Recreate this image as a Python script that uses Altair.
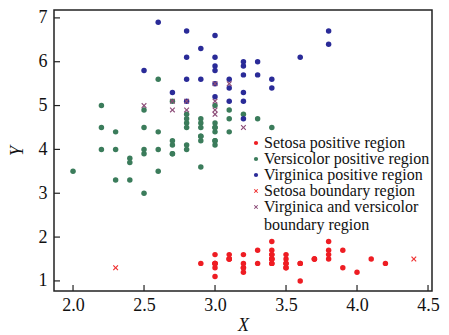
import altair as alt
import pandas as pd

categories = [
    "Setosa positive region",
    "Versicolor positive region",
    "Virginica positive region",
    "Setosa boundary region",
    "Virginica and versicolor boundary region",
]
colors = ["#ee1d23", "#3b7c5b", "#2a2b98", "#ef3030", "#8c4c78"]
XPATH = "M0,-0.3L0.7,-1L1,-0.7L0.3,0L1,0.7L0.7,1L0,0.3L-0.7,1L-1,0.7L-0.3,0L-1,-0.7L-0.7,-1Z"
shapes = ["circle", "circle", "circle", XPATH, XPATH]

setosa_pos_x = [3.5, 3.0, 3.2, 3.1, 3.6, 3.9, 3.4, 3.4, 2.9, 3.1, 3.7, 3.4, 3.0, 3.0, 4.0, 3.9,
                3.5, 3.8, 3.8, 3.4, 3.7, 3.6, 3.3, 3.4, 3.0, 3.4, 3.5, 3.4, 3.2, 3.1, 3.4, 4.1,
                4.2, 3.1, 3.2, 3.5, 3.6, 3.0, 3.4, 3.5, 3.2, 3.5, 3.8, 3.0, 3.8, 3.2, 3.7, 3.3]
setosa_pos_y = [1.4, 1.4, 1.3, 1.5, 1.4, 1.7, 1.4, 1.5, 1.4, 1.5, 1.5, 1.6, 1.4, 1.1, 1.2, 1.3,
                1.4, 1.7, 1.5, 1.7, 1.5, 1.0, 1.7, 1.9, 1.6, 1.6, 1.5, 1.4, 1.6, 1.6, 1.5, 1.5,
                1.4, 1.5, 1.2, 1.3, 1.4, 1.3, 1.5, 1.3, 1.3, 1.6, 1.9, 1.4, 1.6, 1.4, 1.5, 1.4]

versi_pos_x = [3.1, 2.3, 2.8, 2.8, 3.3, 2.4, 2.9, 2.7, 2.0, 3.0, 2.2, 2.9, 2.9, 3.1, 3.0, 2.7,
               2.2, 2.5, 3.2, 2.8, 2.5, 2.8, 2.9, 3.0, 2.8, 3.0, 2.9, 2.6, 2.4, 2.4, 2.7, 2.7,
               3.0, 3.4, 3.1, 2.3, 3.0, 2.5, 2.6, 3.0, 2.6, 2.3, 2.7, 3.0, 2.9, 2.9, 2.5, 2.8,
               2.5, 2.2, 2.6]
versi_pos_y = [4.9, 4.0, 4.6, 4.5, 4.7, 3.3, 4.6, 3.9, 3.5, 4.2, 4.0, 4.7, 3.6, 4.4, 4.5, 4.1,
               4.5, 3.9, 4.8, 4.0, 4.9, 4.7, 4.3, 4.4, 4.8, 5.0, 4.5, 3.5, 3.8, 3.7, 3.9, 5.1,
               4.5, 4.5, 4.7, 4.4, 4.1, 4.0, 4.4, 4.6, 4.0, 3.3, 4.2, 4.2, 4.2, 4.3, 3.0, 4.1,
               4.5, 5.0, 5.6]

virgi_pos_x = [3.2, 3.3, 3.0, 2.9, 3.0, 3.0, 2.9, 2.5, 3.6, 3.2, 2.7, 3.0, 2.8, 3.2, 3.8, 2.6,
               3.2, 2.8, 3.3, 3.2, 2.8, 2.8, 3.8, 3.0, 3.4, 3.1, 3.1, 3.1, 3.2, 3.0, 3.4]
virgi_pos_y = [4.7, 6.0, 5.9, 5.6, 5.8, 6.6, 6.3, 5.8, 6.1, 5.1, 5.3, 5.5, 5.1, 5.3, 6.7, 6.9,
               5.7, 6.7, 5.7, 6.0, 5.6, 6.1, 6.4, 6.1, 5.6, 5.4, 5.6, 5.1, 5.9, 5.2, 5.4]

setosa_bnd_x = [2.3, 4.4]
setosa_bnd_y = [1.3, 1.5]

vv_bnd_x = [3.2, 2.7, 3.0, 2.5, 2.8, 2.8, 2.7, 3.0, 3.1, 3.0, 3.0]
vv_bnd_y = [4.5, 5.1, 5.5, 5.0, 5.1, 4.9, 4.9, 4.9, 5.5, 4.8, 5.1]

x_ticks = [2.0, 2.5, 3.0, 3.5, 4.0, 4.5]
y_ticks = [1, 2, 3, 4, 5, 6, 7]

groups = [
    (categories[0], setosa_pos_x, setosa_pos_y),
    (categories[1], versi_pos_x, versi_pos_y),
    (categories[2], virgi_pos_x, virgi_pos_y),
    (categories[3], setosa_bnd_x, setosa_bnd_y),
    (categories[4], vv_bnd_x, vv_bnd_y),
]
rows = []
for gi, (cat, xs, ys) in enumerate(groups):
    for xv, yv in zip(xs, ys):
        rows.append({"x": xv, "y": yv, "cat": cat, "o": gi})
df = pd.DataFrame(rows)

W, H = 378, 281
FONT = "Liberation Serif"
xscale = alt.Scale(domain=[1.866, 4.528], nice=False, zero=False)
yscale = alt.Scale(domain=[0.77, 7.18], nice=False, zero=False)

x_axis = alt.Axis(values=x_ticks, format=".1f", title="X", labelPadding=5, titlePadding=2)
y_axis = alt.Axis(values=y_ticks, format="d", title="Y", labelPadding=7, titlePadding=12)

legend = alt.Legend(
    title=None, orient="none", legendX=194, legendY=125, padding=0,
    labelFont=FONT, labelFontSize=16, labelColor="#111", labelLimit=400,
    symbolSize=18, labelOffset=0, rowPadding=0, symbolStrokeWidth=0,
    labelExpr="datum.label == 'Virginica and versicolor boundary region' ? ['Virginica and versicolor', 'boundary region'] : datum.label",
)

points = alt.Chart(df).mark_point(filled=True, opacity=1, size=30).encode(
    x=alt.X("x:Q", scale=xscale, axis=x_axis, title="X"),
    y=alt.Y("y:Q", scale=yscale, axis=y_axis, title="Y"),
    color=alt.Color("cat:N", scale=alt.Scale(domain=categories, range=colors), legend=legend),
    shape=alt.Shape("cat:N", scale=alt.Scale(domain=categories, range=shapes), legend=legend),
    order=alt.Order("o:Q"),
)

xt = pd.DataFrame({"x": x_ticks})
yt = pd.DataFrame({"y": y_ticks})
xtick_rules = alt.Chart(xt).mark_rule(color="#222", strokeWidth=1.2).encode(
    x=alt.X("x:Q", scale=xscale, axis=x_axis, title="X"), y=alt.value(H), y2=alt.value(H - 6))
ytick_rules = alt.Chart(yt).mark_rule(color="#222", strokeWidth=1.2).encode(
    y=alt.Y("y:Q", scale=yscale, axis=y_axis, title="Y"), x=alt.value(0), x2=alt.value(6))

chart = alt.layer(points, xtick_rules, ytick_rules).properties(
    width=W, height=H, padding=0, background="white"
).configure_view(
    stroke="#222", strokeWidth=1.5
).configure_axis(
    ticks=False, domain=False, grid=False,
    labelFont=FONT, labelFontSize=18, labelColor="#111",
    titleFont=FONT, titleFontSize=18, titleFontStyle="italic", titleFontWeight="normal",
    titleColor="#111",
)

chart.save("out.html", embed_options={"renderer": "svg", "actions": False})
